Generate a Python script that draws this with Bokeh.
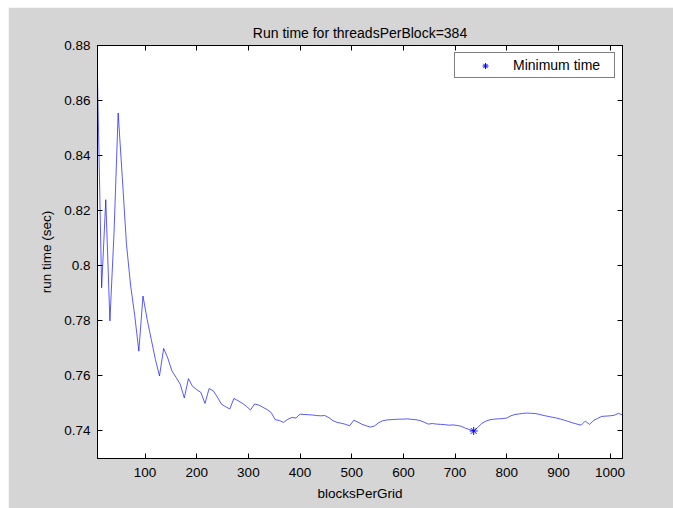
from bokeh.plotting import figure
from bokeh.models import (Range1d, FixedTicker, LinearAxis, PrintfTickFormatter,
                          CustomJSTickFormatter, Legend, LegendItem, ColumnDataSource,
                          GlobalInlineStyleSheet)
from bokeh.embed import file_html
from bokeh.resources import INLINE

# ---- data ----
blocks_per_grid = list(range(8, 1025, 8))
run_time = [
    0.868, 0.792, 0.824, 0.780, 0.812, 0.8555, 0.832, 0.808, 0.793, 0.782,
    0.769, 0.789, 0.7806, 0.7733, 0.766, 0.760, 0.770, 0.7665, 0.7618, 0.7595,
    0.757, 0.752, 0.759, 0.7562, 0.7550, 0.7540, 0.7500, 0.7554, 0.7546, 0.7523,
    0.7497, 0.7488, 0.7480, 0.7518, 0.7510, 0.7501, 0.7490, 0.7476, 0.7498, 0.7494,
    0.7486, 0.7478, 0.7467, 0.7441, 0.7438, 0.7431, 0.7442, 0.7449, 0.7447, 0.7461,
    0.7460, 0.7459, 0.7458, 0.7456, 0.7455, 0.7456, 0.7448, 0.7437, 0.7431, 0.7428,
    0.7424, 0.7419, 0.7439, 0.7432, 0.7424, 0.7419, 0.7414, 0.7418, 0.7430, 0.7437,
    0.7440, 0.7441, 0.7442, 0.7443, 0.7443, 0.7444, 0.7442, 0.7441, 0.7438, 0.7432,
    0.7425, 0.7427, 0.7425, 0.7424, 0.7423, 0.7421, 0.7422, 0.7420, 0.7417, 0.7410,
    0.7405, 0.7400, 0.7413, 0.7428, 0.7436, 0.7441, 0.7443, 0.7444, 0.7445, 0.7447,
    0.7455, 0.7460, 0.7462, 0.7464, 0.7465, 0.7464, 0.7463, 0.7460, 0.7456, 0.7453,
    0.7450, 0.7447, 0.7443, 0.7439, 0.7434, 0.7429, 0.7425, 0.7421, 0.7436, 0.7424,
    0.7438, 0.7446, 0.7453, 0.7454, 0.7455, 0.7457, 0.7464, 0.7458,
]
x_ticks = [100, 200, 300, 400, 500, 600, 700, 800, 900, 1000]
y_ticks = [0.74, 0.76, 0.78, 0.80, 0.82, 0.84, 0.86, 0.88]
title_text = "Run time for threadsPerBlock=384"
x_label = "blocksPerGrid"
y_label = "run time (sec)"
legend_label = "Minimum time"

i_min = min(range(len(run_time)), key=lambda i: run_time[i])
min_x = [blocks_per_grid[i_min]]
min_y = [run_time[i_min]]

FONT = "Liberation Sans"
GRAY = "#d5d5d5"

p = figure(width=672, height=501, output_backend="svg", toolbar_location=None,
           x_range=Range1d(8, 1024), y_range=Range1d(0.73, 0.88),
           min_border_left=89, min_border_right=58, min_border_top=38,
           min_border_bottom=50, background_fill_color="white",
           border_fill_color=GRAY, outline_line_color="black", outline_line_width=1)
p.margin = (7, 0, 0, 8)
p.stylesheets = [GlobalInlineStyleSheet(
    css="html, body { margin: 0; padding: 0; overflow: hidden; background: #ffffff; }")]

p.title.text = title_text
p.title.align = "center"
p.title.text_font = FONT
p.title.text_font_size = "14px"
p.title.text_font_style = "normal"
p.title.text_color = "black"
p.title.standoff = 10

p.grid.visible = False

def style_axis(ax, labels=True):
    ax.major_tick_in = 5
    ax.major_tick_out = 0
    ax.minor_tick_line_color = None
    ax.axis_line_color = "black"
    ax.major_tick_line_color = "black"
    ax.major_label_text_font = FONT
    ax.major_label_text_font_size = "13.5px" if labels else "0px"
    ax.major_label_text_color = "black"
    ax.axis_label_text_font = FONT
    ax.axis_label_text_font_size = "13.5px"
    ax.axis_label_text_font_style = "normal"
    ax.axis_label_text_color = "black"

xa = p.xaxis[0]
ya = p.yaxis[0]
xa.ticker = FixedTicker(ticks=x_ticks)
ya.ticker = FixedTicker(ticks=y_ticks)
ya.formatter = PrintfTickFormatter(format="%g")
style_axis(xa)
style_axis(ya)
xa.axis_label = x_label
ya.axis_label = y_label
xa.major_label_standoff = 9
ya.major_label_standoff = 7
xa.axis_label_standoff = 6
ya.axis_label_standoff = 7

top = LinearAxis(ticker=FixedTicker(ticks=x_ticks),
                 formatter=CustomJSTickFormatter(code="return ''"))
right = LinearAxis(ticker=FixedTicker(ticks=y_ticks),
                   formatter=CustomJSTickFormatter(code="return ''"))
style_axis(top, labels=False)
style_axis(right, labels=False)
top.major_label_standoff = 0
right.major_label_standoff = 0
p.add_layout(top, "above")
p.add_layout(right, "right")

src = ColumnDataSource(dict(x=blocks_per_grid, y=run_time))
p.line("x", "y", source=src, line_color="#0000ff", line_width=1, line_alpha=0.65)

msrc = ColumnDataSource(dict(x=min_x, y=min_y))
r_min = p.scatter("x", "y", source=msrc, marker="asterisk", size=8,
                  line_color="#0000ff", line_width=1)

legend = Legend(items=[LegendItem(label=legend_label, renderers=[r_min])],
                location="top_right", margin=7, padding=4, spacing=0,
                glyph_width=52, glyph_height=15, label_standoff=2,
                label_width=97, label_height=15,
                border_line_color="black", border_line_width=1,
                background_fill_color="white", background_fill_alpha=1,
                label_text_font=FONT, label_text_font_size="14px",
                label_text_color="black")
p.add_layout(legend, "center")

open("out.html", "w").write(file_html(p, INLINE))
